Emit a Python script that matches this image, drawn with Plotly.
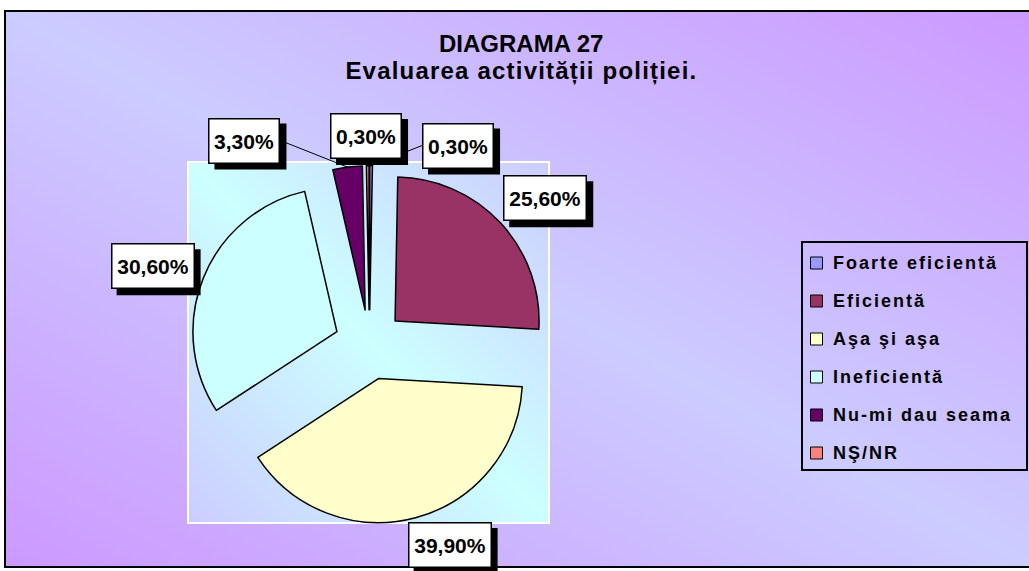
import math
import json
import base64
import plotly.graph_objects as go

# ---------------- data ----------------
categories = ["Foarte eficientă", "Eficientă", "Aşa şi aşa", "Ineficientă", "Nu-mi dau seama", "NŞ/NR"]
values = [0.3, 25.6, 39.9, 30.6, 3.3, 0.3]
slice_colors = ["#9999FF", "#993366", "#FFFFCC", "#CCFFFF", "#660066", "#FF8080"]
title_line1 = "DIAGRAMA 27"
title_line2 = "Evaluarea activității poliției."

# ---------------- layout constants ----------------
W, H = 1029, 571
FONT = "Liberation Sans, Arial, sans-serif"


def px(x):
    return x / W


def py(y):
    return 1 - y / H


CX, CY, R = 369.4, 344.8, 144.0          # pie centre / radius (pixels)
PULL = 35.0 / R                          # explode distance as fraction of radius
half = R * (1 + PULL)
domain_x = [px(CX - half), px(CX + half)]
domain_y = [py(CY + half), py(CY - half)]

LABEL_R = 218.0
label_nudge = [(86.6, 18.7), (16, 1.7), (24, -10.4), (-14.6, 2.9), (-98.3, 12.1), (-1.3, 9.2)]


def grad_src(c_mid, c_end):
    svg = ('<svg xmlns="http://www.w3.org/2000/svg" width="100" height="100" viewBox="0 0 100 100" '
           'preserveAspectRatio="none"><defs><linearGradient id="g" x1="0" y1="1" x2="1" y2="0">'
           f'<stop offset="0" stop-color="{c_end}"/><stop offset="0.5" stop-color="{c_mid}"/>'
           f'<stop offset="1" stop-color="{c_end}"/></linearGradient></defs>'
           '<rect width="100" height="100" fill="url(#g)"/></svg>')
    return "data:image/svg+xml;base64," + base64.b64encode(svg.encode()).decode()


fig = go.Figure(go.Pie(
    labels=categories, values=values, sort=False, direction="clockwise", rotation=0,
    marker=dict(colors=slice_colors, line=dict(color="black", width=1.5)),
    pull=[PULL] * len(values), textinfo="none", hoverinfo="skip", showlegend=False,
    domain=dict(x=domain_x, y=domain_y),
))

images = [
    dict(source=grad_src("#CCCCFF", "#CC99FF"), xref="paper", yref="paper",
         x=px(5), y=py(11), sizex=px(1035 - 5), sizey=(567 - 11) / H,
         xanchor="left", yanchor="top", sizing="stretch", layer="below"),
    dict(source=grad_src("#CCFFFF", "#CCCCFF"), xref="paper", yref="paper",
         x=px(188), y=py(162), sizex=px(549 - 188), sizey=(523 - 162) / H,
         xanchor="left", yanchor="top", sizing="stretch", layer="below"),
]

shapes = [
    dict(type="rect", xref="paper", yref="paper", x0=px(5), x1=px(1040), y0=py(567), y1=py(11),
         line=dict(color="black", width=2), layer="below"),
    dict(type="rect", xref="paper", yref="paper", x0=px(188), x1=px(549), y0=py(523), y1=py(162),
         line=dict(color="white", width=2), layer="below"),
]

leader_shapes, shadow_shapes, box_anns = [], [], []
BOX_H = 41
BW, BP = 1.5, 1
SH = 6
total = sum(values)
cum = 0.0
for i, v in enumerate(values):
    mid = 2 * math.pi * (cum + v / 2) / total
    cum += v
    dx, dy = math.sin(mid), -math.cos(mid)
    lx = CX + LABEL_R * dx + label_nudge[i][0]
    ly = CY + LABEL_R * dy + label_nudge[i][1]
    txt = f"{v:.2f}".replace(".", ",") + "%"
    w = 12 * len(txt) + 7
    ow = w + 2 * (BW + BP)
    oh = BOX_H + 2 * (BW + BP)
    box_anns.append(dict(xref="paper", yref="paper", x=px(lx), y=py(ly), text=txt, showarrow=False,
                         xanchor="center", yanchor="middle", width=w, height=BOX_H, borderpad=BP,
                         borderwidth=BW, bordercolor="black", bgcolor="white",
                         font=dict(family=FONT, size=21, color="black", weight="bold")))
    shadow_shapes.append(dict(type="rect", xref="paper", yref="paper",
                              x0=px(lx - ow / 2 + SH), x1=px(lx + ow / 2 + SH),
                              y0=py(ly + oh / 2 + SH), y1=py(ly - oh / 2 + SH),
                              fillcolor="black", line=dict(width=0), layer="above"))
    if v < 5:
        sx = CX + (R * PULL + R) * dx
        sy = CY + (R * PULL + R) * dy
        hw = ow / 2
        if abs(sx - lx) <= hw:
            ex, ey = sx, ly + oh / 2
        elif sx < lx:
            ex, ey = lx - hw, ly
        else:
            ex, ey = lx + hw, ly
        leader_shapes.append(dict(type="line", xref="paper", yref="paper", x0=px(sx), y0=py(sy),
                                  x1=px(ex), y1=py(ey), line=dict(color="black", width=1),
                                  layer="above"))

shapes += leader_shapes + shadow_shapes

# manual legend
LEG = (802, 242, 1027, 470)
shapes.append(dict(type="rect", xref="paper", yref="paper", x0=px(LEG[0]), x1=px(LEG[2]),
                   y0=py(LEG[3]), y1=py(LEG[1]), line=dict(color="black", width=2), layer="above"))
legend_anns = []
row0, gap = 263, 38
for i, cat in enumerate(categories):
    yc = row0 + i * gap
    shapes.append(dict(type="rect", xref="paper", yref="paper", x0=px(810.5), x1=px(822.5),
                       y0=py(yc + 6), y1=py(yc - 6), fillcolor=slice_colors[i],
                       line=dict(color="black", width=1), layer="above"))
    legend_anns.append(dict(xref="paper", yref="paper", x=px(831), y=py(yc), text=cat,
                            showarrow=False, xanchor="left", yanchor="middle", align="left",
                            font=dict(family=FONT, size=18, color="black", weight="bold")))

title_anns = [
    dict(xref="paper", yref="paper", x=px(521), y=py(43.5), text=title_line1, showarrow=False,
         xanchor="center", yanchor="middle", font=dict(family=FONT, size=24, color="black", weight="bold")),
    dict(xref="paper", yref="paper", x=px(521), y=py(71), text=title_line2, showarrow=False,
         xanchor="center", yanchor="middle", font=dict(family=FONT, size=24, color="black", weight="bold")),
]

fig.update_layout(
    width=W, height=H, margin=dict(l=0, r=0, t=0, b=0, pad=0),
    paper_bgcolor="white", plot_bgcolor="white",
    images=images, shapes=shapes,
    annotations=title_anns + box_anns + legend_anns,
)

spacing = {title_line2: 1.2}
for cat in categories:
    spacing[cat] = 2.0

post = """
document.body.style.margin='0';
document.body.style.overflow='hidden';
var sp = %s;
document.querySelectorAll('text.annotation-text').forEach(function(t){
  var k = t.textContent;
  if (Object.prototype.hasOwnProperty.call(sp, k)) { t.style.letterSpacing = sp[k] + 'px'; }
});
""" % json.dumps(spacing, ensure_ascii=False)

fig.write_html("out.html", post_script=post, config={"displayModeBar": False})
